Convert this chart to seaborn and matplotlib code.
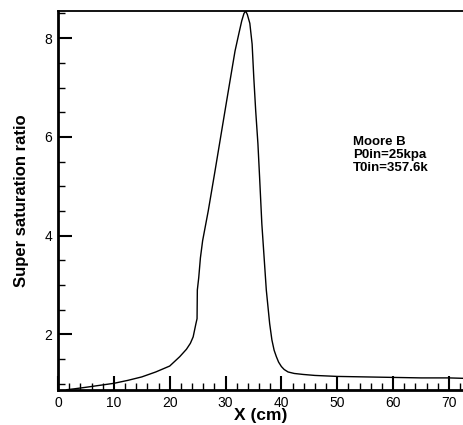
import matplotlib
matplotlib.use("Agg")
import matplotlib.pyplot as plt
import seaborn as sns
import pandas as pd
from matplotlib.ticker import MultipleLocator

x_cm = [1.5, 3, 5, 7.5, 10, 12.5, 15, 17.5, 20, 21.8, 23.0, 23.7, 24.2, 24.7, 24.9,
        24.95, 25.2, 25.5, 25.9, 26.9, 28.1, 29.2, 30.2, 31.0, 31.7, 32.4, 32.9, 33.3,
        33.6, 33.9, 34.35, 34.76, 35.06, 35.4, 35.8, 36.1, 36.5, 36.9, 37.3, 37.9,
        38.3, 38.7, 39.1, 39.5, 40.0, 40.5, 41.2, 42.3, 43.9, 46, 50, 55, 60, 65, 70, 73]
ratio = [0.88, 0.90, 0.93, 0.97, 1.01, 1.07, 1.14, 1.24, 1.36, 1.55, 1.70, 1.82, 1.95,
         2.22, 2.32, 2.9, 3.15, 3.55, 3.9, 4.5, 5.3, 6.05, 6.73, 7.27, 7.74, 8.1,
         8.35, 8.5, 8.55, 8.48, 8.3, 7.88, 7.2, 6.53, 5.86, 5.18, 4.24, 3.57, 2.9,
         2.22, 1.89, 1.68, 1.55, 1.44, 1.35, 1.29, 1.24, 1.21, 1.19, 1.17, 1.15, 1.14,
         1.13, 1.12, 1.12, 1.11]
annotation = ["Moore B", "P0in=25kpa", "T0in=357.6k"]

df = pd.DataFrame({"x": x_cm, "y": ratio})

sns.set_style("ticks")
plt.rcParams["font.family"] = ["Liberation Sans", "DejaVu Sans"]
plt.rcParams["text.color"] = "black"
plt.rcParams["axes.labelcolor"] = "black"
plt.rcParams["xtick.color"] = "black"
plt.rcParams["ytick.color"] = "black"
plt.rcParams["axes.edgecolor"] = "black"

fig = plt.figure(figsize=(4.64, 4.25), dpi=100)
ax = fig.add_axes([58/464, 35/425, 406/464, 379/425])
sns.lineplot(data=df, x="x", y="y", color="black", linewidth=1.0,
             estimator=None, sort=False, ax=ax)

ax.set_xlim(0, 72.7)
ax.set_ylim(0.875, 8.55)
ax.xaxis.set_major_locator(MultipleLocator(10))
ax.xaxis.set_minor_locator(MultipleLocator(2))
ax.yaxis.set_minor_locator(MultipleLocator(0.5))
ax.set_yticks([2, 4, 6, 8])
ax.tick_params(which="major", direction="in", length=10, width=1.5, labelsize=10,
               colors="black", pad=4)
ax.tick_params(which="minor", direction="in", length=5, width=1.0, colors="black")
ax.tick_params(axis="x", which="both", top=False)
ax.tick_params(axis="y", which="both", right=False)

ax.spines["right"].set_visible(False)
ax.spines["left"].set_linewidth(2.0)
ax.spines["bottom"].set_linewidth(2.0)
ax.spines["top"].set_linewidth(1.3)

ax.set_xlabel("X (cm)", fontsize=12.5, fontweight="bold", labelpad=-1)
ax.set_ylabel("Super saturation ratio", fontsize=12, fontweight="bold", labelpad=11)

ax.text(52.8, 6.02, "\n".join(annotation), fontsize=9.5, fontweight="bold",
        va="top", ha="left", linespacing=1.1)

fig.savefig("out.png", dpi=100)
